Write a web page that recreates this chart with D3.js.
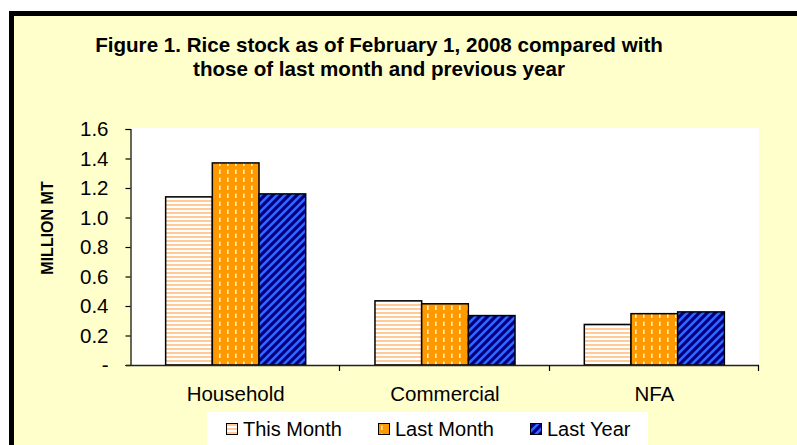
<!DOCTYPE html>
<html>
<head>
<meta charset="utf-8">
<script src="https://cdn.jsdelivr.net/npm/d3@7"></script>
<style>
html,body{margin:0;padding:0;background:#fff;}
svg{display:block;font-family:"Liberation Sans",Arial,sans-serif;}
</style>
</head>
<body>
<svg id="chart" width="797" height="445"></svg>
<script>
const categories = ["Household", "Commercial", "NFA"];
const seriesNames = ["This Month", "Last Month", "Last Year"];
const thisMonth = [1.14, 0.435, 0.275];
const lastMonth = [1.37, 0.415, 0.348];
const lastYear  = [1.16, 0.335, 0.360];
const yTicks = [0, 0.2, 0.4, 0.6, 0.8, 1.0, 1.2, 1.4, 1.6];
const titleLines = ["Figure 1. Rice stock as of February 1, 2008 compared with",
                    "those of last month and previous year"];
const yLabel = "MILLION MT";

const seriesValues = [thisMonth, lastMonth, lastYear];
const patternIds = ["pThis", "pLast", "pYear"];

const svg = d3.select("#chart");
const defs = svg.append("defs");

// Pattern: This Month - horizontal light orange stripes
let p = defs.append("pattern").attr("id", "pThis").attr("patternUnits", "userSpaceOnUse")
  .attr("width", 8).attr("height", 4);
p.append("rect").attr("width", 8).attr("height", 4).attr("fill", "#ffffff");
p.append("rect").attr("y", 0).attr("width", 8).attr("height", 2).attr("fill", "#ffcc99");

// Pattern: Last Month - orange with small vertical light dashes
p = defs.append("pattern").attr("id", "pLast").attr("patternUnits", "userSpaceOnUse")
  .attr("width", 8).attr("height", 8);
p.append("rect").attr("width", 8).attr("height", 8).attr("fill", "#ff9900");
p.append("rect").attr("x", 3).attr("y", 1.5).attr("width", 1.6).attr("height", 4.5).attr("fill", "#ffecc8");

// Pattern: Last Year - navy with blue diagonal stripes
p = defs.append("pattern").attr("id", "pYear").attr("patternUnits", "userSpaceOnUse")
  .attr("width", 8).attr("height", 8);
p.append("rect").attr("width", 8).attr("height", 8).attr("fill", "#000080");
p.append("path").attr("d", "M-2,10 L10,-2 M-2,2 L2,-2 M6,10 L10,6")
  .attr("stroke", "#3366ff").attr("stroke-width", 2.6);

// Background and frame
svg.append("rect").attr("x", 11.5).attr("y", 13.5).attr("width", 800).attr("height", 450)
  .attr("fill", "#ffffcc").attr("stroke", "#000").attr("stroke-width", 5);

// Title
const title = svg.append("text").attr("text-anchor", "middle")
  .attr("font-weight", "bold").attr("font-size", 20.6).attr("fill", "#000");
title.selectAll("tspan").data(titleLines).join("tspan")
  .attr("x", 379).attr("y", (d, i) => 52 + i * 24).text(d => d);

// Plot area
const pLeft = 131, pRight = 759, pTop = 128, pBottom = 365;
svg.append("rect").attr("x", pLeft).attr("y", pTop).attr("width", pRight - pLeft).attr("height", pBottom - pTop)
  .attr("fill", "#ffffff");

const x0 = d3.scaleBand().domain(categories).range([pLeft, pRight]).paddingInner(0.331).paddingOuter(0.1655);
const x1 = d3.scaleBand().domain(seriesNames).range([0, x0.bandwidth()]).padding(0);
const y = d3.scaleLinear().domain([0, 1.6]).range([pBottom, 129]);

// Bars
const rows = [];
categories.forEach((c, ci) => seriesNames.forEach((s, si) =>
  rows.push({cat: c, series: s, si: si, value: seriesValues[si][ci]})));

svg.append("g").selectAll("rect").data(rows).join("rect")
  .attr("x", d => x0(d.cat) + x1(d.series))
  .attr("y", d => y(d.value))
  .attr("width", x1.bandwidth())
  .attr("height", d => pBottom - y(d.value))
  .attr("fill", d => "url(#" + patternIds[d.si] + ")")
  .attr("stroke", "#000").attr("stroke-width", 1.5);

// Y axis
const yAxis = d3.axisLeft(y).tickValues(yTicks).tickSize(5).tickPadding(17)
  .tickFormat(d => d === 0 ? "-" : d3.format(".1f")(d));
const gy = svg.append("g").attr("transform", "translate(130.5,0)").call(yAxis);
gy.select(".domain").attr("stroke", "#000").attr("stroke-width", 1.2);
gy.selectAll(".tick line").attr("stroke", "#000").attr("stroke-width", 1.2);
gy.selectAll(".tick text").attr("font-size", 20.5).attr("fill", "#000")
  .attr("font-family", "Liberation Sans, Arial, sans-serif");

// X axis line and category-boundary ticks
const boundaries = categories.map(c => x0(c) - x0.step() * x0.paddingInner() / 2);
boundaries.push(pRight);
const gx = svg.append("g");
gx.append("line").attr("x1", 126).attr("x2", pRight).attr("y1", pBottom + 0.5).attr("y2", pBottom + 0.5)
  .attr("stroke", "#222").attr("stroke-width", 1.5);
gx.selectAll("line.tk").data(boundaries.slice(1)).join("line").attr("class", "tk")
  .attr("x1", d => Math.round(d) - 0.5).attr("x2", d => Math.round(d) - 0.5)
  .attr("y1", pBottom).attr("y2", pBottom + 6).attr("stroke", "#000").attr("stroke-width", 1.2);
gx.selectAll("text").data(categories).join("text")
  .attr("x", d => x0(d) + x0.bandwidth() / 2).attr("y", 401)
  .attr("text-anchor", "middle").attr("font-size", 20.5).attr("fill", "#000").text(d => d);

// Y label
svg.append("text").attr("transform", "translate(53,228) rotate(-90)")
  .attr("text-anchor", "middle").attr("font-weight", "bold").attr("font-size", 16)
  .attr("fill", "#000").text(yLabel);

// Legend
const lg = svg.append("g");
lg.append("rect").attr("x", 207).attr("y", 412).attr("width", 441).attr("height", 40).attr("fill", "#fff");
const legX = [226, 378, 530];
const li = lg.selectAll("g").data(seriesNames).join("g")
  .attr("transform", (d, i) => `translate(${legX[i]},0)`);
li.append("rect").attr("x", 0.5).attr("y", 423.5).attr("width", 11).attr("height", 11)
  .attr("fill", (d, i) => "url(#" + patternIds[i] + ")").attr("stroke", "#000").attr("stroke-width", 1);
li.append("text").attr("x", 17).attr("y", 436).attr("font-size", 20).attr("fill", "#000").text(d => d);
</script>
</body>
</html>
